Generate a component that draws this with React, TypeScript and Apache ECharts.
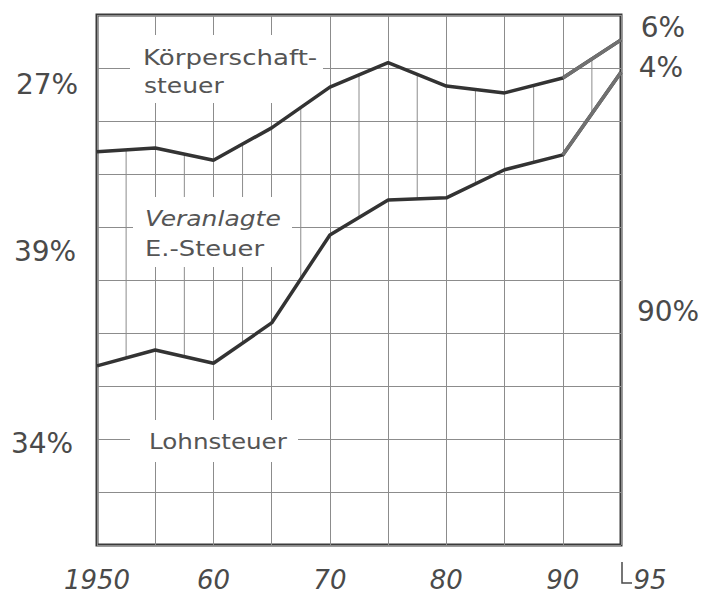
import React, { useEffect, useRef } from "react";
import * as echarts from "echarts";

// Shares of wage tax, assessed income tax and corporate tax (percent of the three)
const years = [1950, 1955, 1960, 1965, 1970, 1975, 1980, 1985, 1990, 1995];
const lohnsteuer = [33.8, 36.8, 34.3, 41.9, 58.5, 65.1, 65.5, 70.8, 73.6, 89.2];
const veranlagte = [40.4, 38.1, 38.3, 36.8, 27.9, 25.9, 21.1, 14.5, 14.5, 6.1];

const xLabelYears = [1950, 1960, 1970, 1980, 1990, 1995];
const xLabelTexts = ["1950", "60", "70", "80", "90", "95"];

const leftShares = ["27%", "39%", "34%"]; // 1950: Körperschaft, Veranlagte, Lohn
const rightShares = ["6%", "4%", "90%"]; // 1995

const seriesNames = ["Lohnsteuer", "Lohn- + veranlagte E.-Steuer"];

const GRAY = "#4a4a4a";
const GRID = "#8c8c8c";
const FONT = "DejaVu Sans";
const LAST = years.length - 2; // last segment (1990–95) drawn lighter

export default function App() {
  const ref = useRef<HTMLDivElement>(null);

  useEffect(() => {
    if (!ref.current) return;
    const chart = echarts.init(ref.current, undefined, { renderer: "svg" });

    // cumulative boundary between "Veranlagte E.-Steuer" and "Körperschaftsteuer"
    const upper = lohnsteuer.map((v, i) => v + veranlagte[i]);

    const labelText = (txt: string, x: number, y: number, italic = false, sx = 1.24) => ({
      type: "text",
      x,
      y,
      scaleX: sx,
      z: 20,
      style: {
        text: txt,
        fontSize: 20.5,
        fontFamily: FONT,
        fontStyle: italic ? "italic" : "normal",
        fill: "#555",
        textAlign: "left",
        textVerticalAlign: "middle",
      },
    });
    const whiteBox = (x: number, y: number, w: number, h: number) => ({
      type: "rect",
      z: 1,
      shape: { x, y, width: w, height: h },
      style: { fill: "#fff" },
    });
    const pct = (txt: string, x: number, y: number) => ({
      type: "text",
      x,
      y,
      z: 20,
      style: {
        text: txt,
        fontSize: 28,
        fontFamily: FONT,
        fill: GRAY,
        textAlign: "center",
        textVerticalAlign: "middle",
      },
    });

    const lineSeries = (name: string, vals: number[], color: string, from = 0) => ({
      name,
      type: "line",
      symbol: "none",
      z: 5,
      lineStyle: { width: 3.5, color },
      data: years.slice(from).map((y, i) => [y, vals[i + from]]),
    });

    const option: any = {
      animation: false,
      backgroundColor: "#fff",
      grid: {
        left: 97,
        right: 84,
        top: 15,
        bottom: 50,
        show: true,
        borderColor: "#3a3a3a",
        borderWidth: 3,
      },
      xAxis: {
        type: "value",
        min: 1950,
        max: 1995,
        interval: 5,
        axisLine: { show: false },
        axisTick: { show: false },
        splitLine: { show: true, lineStyle: { color: GRID, width: 1 } },
        axisLabel: {
          margin: 22,
          fontSize: 26,
          fontFamily: FONT,
          fontStyle: "italic",
          color: GRAY,
          formatter: (v: number) => {
            const i = xLabelYears.indexOf(Math.round(v));
            if (i < 0) return "";
            if (xLabelYears[i] === 1995) return "{r|" + xLabelTexts[i] + "}";
            return xLabelTexts[i];
          },
          rich: {
            r: {
              fontSize: 26,
              fontFamily: FONT,
              fontStyle: "italic",
              color: GRAY,
              padding: [0, 0, 0, 58],
            },
          },
        },
      },
      yAxis: {
        type: "value",
        min: 0,
        max: 100,
        interval: 10,
        axisLine: { show: false },
        axisTick: { show: false },
        axisLabel: { show: false },
        splitLine: { show: true, lineStyle: { color: GRID, width: 1 } },
      },
      series: [
        lineSeries(seriesNames[0], lohnsteuer, "#333"),
        lineSeries(seriesNames[1], upper, "#333"),
        lineSeries(seriesNames[0] + " ", lohnsteuer, "#707070", LAST),
        lineSeries(seriesNames[1] + " ", upper, "#707070", LAST),
      ],
    };
    chart.setOption(option);

    const px = (x: number, y: number) => chart.convertToPixel({ gridIndex: 0 }, [x, y]) as number[];
    // finer grid lines, drawn only in the band between the two curves
    const minorLines = years.slice(0, -1).map((_, i) => {
      const a0 = px(years[i], lohnsteuer[i]);
      const a1 = px(years[i + 1], lohnsteuer[i + 1]);
      const b0 = px(years[i], upper[i]);
      const b1 = px(years[i + 1], upper[i + 1]);
      const x = (a0[0] + a1[0]) / 2;
      return {
        type: "line",
        z: 0,
        silent: true,
        shape: { x1: x, y1: (a0[1] + a1[1]) / 2, x2: x, y2: (b0[1] + b1[1]) / 2 },
        style: { stroke: GRID, lineWidth: 1 },
      };
    });

    const x95 = px(1995, 0)[0];
    const gridBottom = px(1995, 0)[1];

    chart.setOption({
      graphic: [
        ...minorLines,
        whiteBox(130, 35, 193, 68),
        whiteBox(133, 197, 159, 70),
        whiteBox(130, 420, 168, 42),
        labelText("Körperschaft-", 143, 58.5, false, 1.27),
        labelText("steuer", 144, 86, false, 1.22),
        labelText("Veranlagte", 145, 219, true, 1.22),
        labelText("E.-Steuer", 145, 249, false, 1.26),
        labelText("Lohnsteuer", 149, 442, false, 1.2),
        pct(leftShares[0], 47, 84),
        pct(leftShares[1], 45, 251),
        pct(leftShares[2], 42, 443),
        pct(rightShares[0], 663, 27),
        pct(rightShares[1], 661, 67),
        pct(rightShares[2], 668, 311),
        {
          type: "polyline",
          z: 20,
          shape: {
            points: [
              [x95 + 1, gridBottom + 17],
              [x95 + 1, gridBottom + 38],
              [x95 + 11, gridBottom + 38],
            ],
          },
          style: { stroke: GRAY, lineWidth: 1.5, fill: "none" },
        },
      ],
    });

    return () => chart.dispose();
  }, []);

  return (
    <div
      ref={ref}
      style={{ position: "absolute", left: 0, top: 0, width: 705, height: 595, background: "#fff" }}
    />
  );
}
